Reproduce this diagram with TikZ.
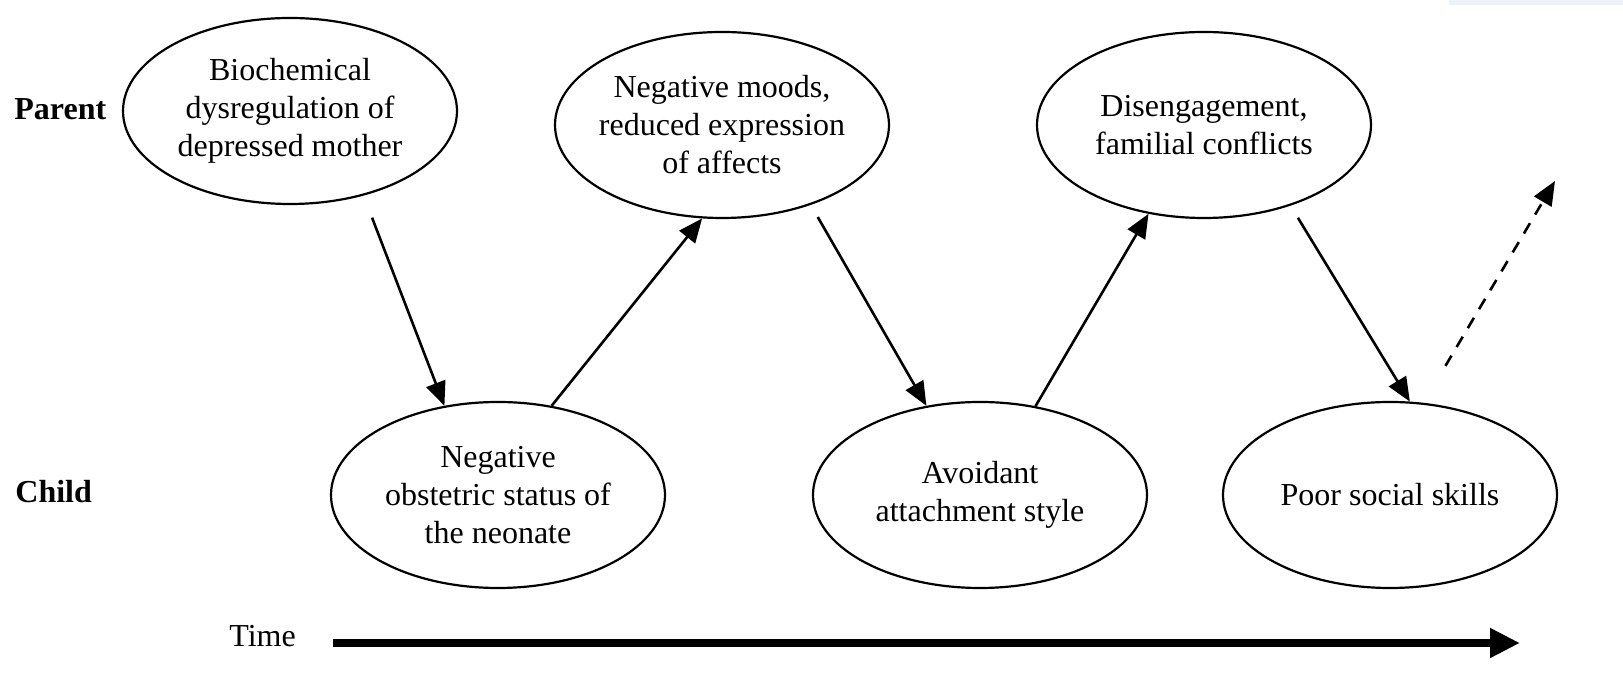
\documentclass[tikz,border=0pt]{standalone}
\usepackage{fontspec}
\setmainfont{Liberation Serif}
\usetikzlibrary{arrows.meta,shapes.geometric}
\definecolor{topbar}{RGB}{238,242,247}
\begin{document}
\begin{tikzpicture}[x=0.5pt,y=-0.5pt,
  bubble/.style={ellipse, draw=black, line width=1.1pt, minimum width=167pt, minimum height=93pt,
    inner xsep=-12pt, inner ysep=0pt, align=center, font=\fontsize{16}{19}\selectfont},
  lab/.style={font=\fontsize{16}{19}\selectfont, inner sep=0pt, anchor=base west},
  conn/.style={line width=1.3pt, -{Triangle[length=12pt,width=10pt]}},
  timearrow/.style={line width=4pt, -{Triangle[length=15pt,width=14pt]}}
]
\useasboundingbox (0,0) rectangle (1623,699);
\fill[white] (0,0) rectangle (1623,699);
\fill[topbar] (1449,0) rectangle (1623,5);

\node[bubble] (e1) at (290,111) {Biochemical\\dysregulation of\\depressed mother};
\node[bubble] (e2) at (722,125) {Negative moods,\\reduced expression\\of affects};
\node[bubble] (e3) at (1204,125) {Disengagement,\\familial conflicts};
\node[bubble] (e4) at (498,495) {Negative\\obstetric status of\\the neonate};
\node[bubble] (e5) at (980,495) {Avoidant\\attachment style};
\node[bubble] (e6) at (1390,495) {Poor social skills};

\node[lab, font=\bfseries\fontsize{16}{19}\selectfont] (parent) at (14,120) {Parent};
\node[lab, font=\bfseries\fontsize{16}{19}\selectfont] (child) at (15,503) {Child};
\node[lab] (time) at (229,647) {Time};

\coordinate (t0) at (333,643);
\coordinate (t1) at (1520,643);
\draw[timearrow] (t0) -- (t1);

\draw[conn, shorten <=11.8pt] (e1.-49.6) -- (e4.121.5);
\draw[conn] (e4.59.5) -- (e2.258);
\draw[conn, shorten <=7pt] (e2.-42.9) -- (e5.121.6);
\draw[conn] (e5.58.2) -- (e3.238.5);
\draw[conn, shorten <=7.1pt] (e3.-43) -- (e6.78);
\coordinate (dend) at (1555,181);
\draw[conn, dash pattern=on 6pt off 5pt, shorten <=21.4pt] (e6.70.6) -- (dend);
\end{tikzpicture}
\end{document}
